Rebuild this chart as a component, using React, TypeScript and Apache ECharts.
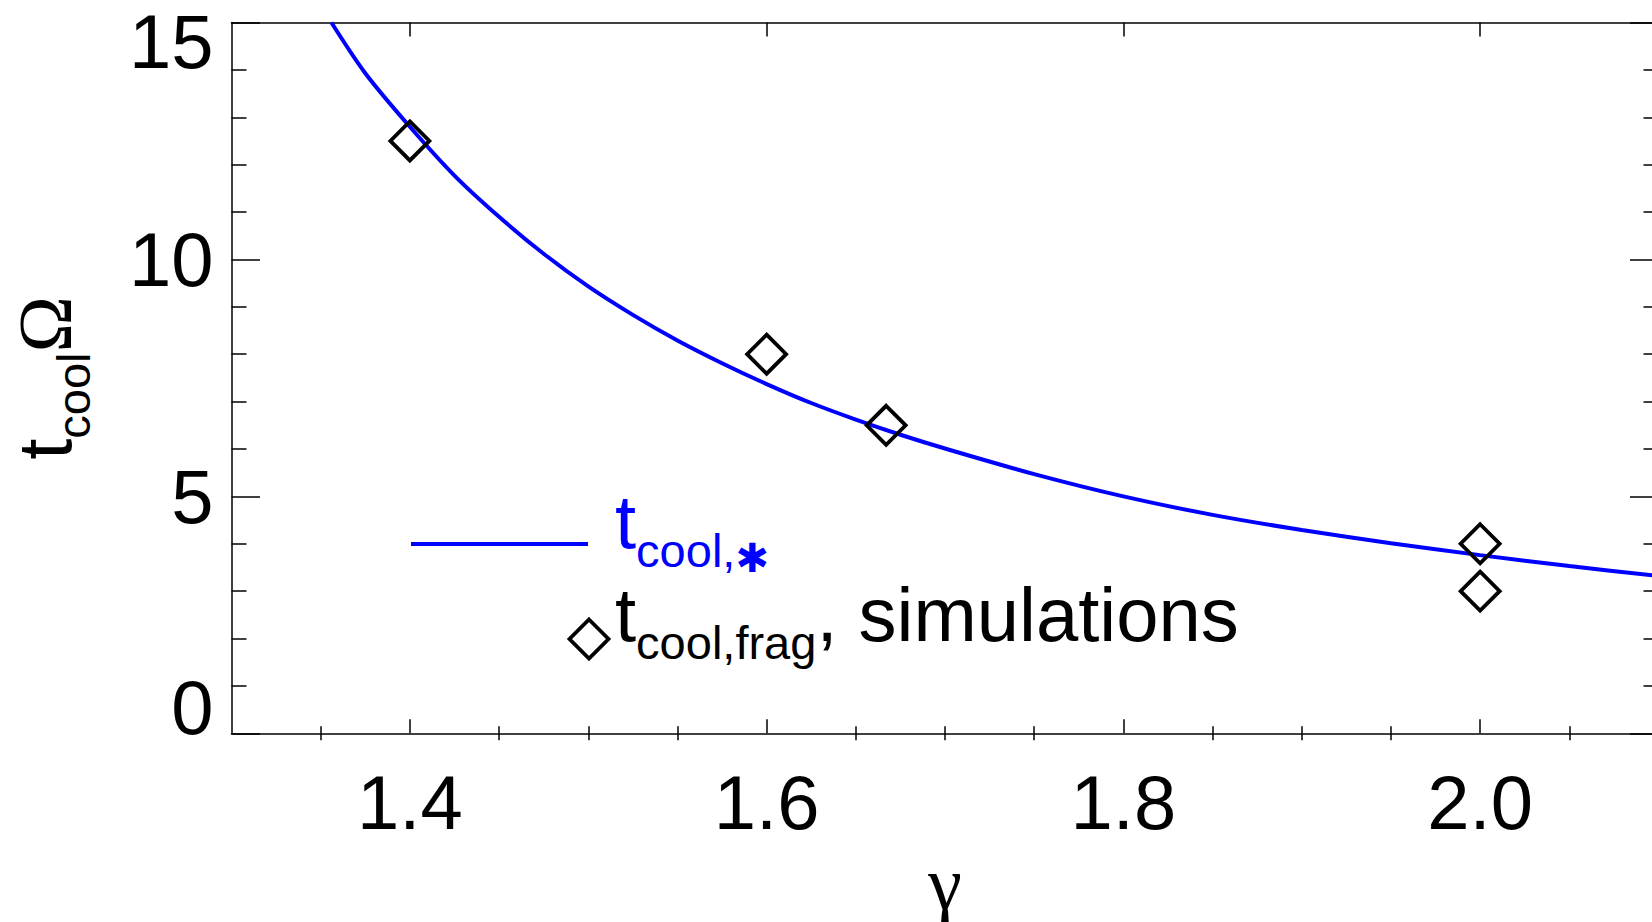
import React, { useEffect, useRef } from "react";
import * as echarts from "echarts";

// ---- data ----
const curveGamma = [1.356, 1.375, 1.4, 1.425, 1.45, 1.475, 1.5, 1.525, 1.55, 1.575, 1.6, 1.625, 1.65, 1.675, 1.7, 1.75, 1.8, 1.85, 1.9, 1.95, 2.0, 2.05, 2.1];
const curveT = [15.0, 13.93, 12.8, 11.77, 10.9, 10.12, 9.43, 8.83, 8.29, 7.81, 7.37, 6.97, 6.62, 6.3, 6.01, 5.47, 5.0, 4.61, 4.29, 4.01, 3.76, 3.53, 3.32];
const simGamma = [1.4, 1.6, 1.667, 2.0, 2.0];
const simT = [12.5, 8.0, 6.5, 4.0, 3.0];
const xMajorTicks = [1.4, 1.6, 1.8, 2.0];
const xMinorTicks = [1.35, 1.45, 1.5, 1.55, 1.65, 1.7, 1.75, 1.85, 1.9, 1.95, 2.05];
const xRange = [1.3, 2.1];
const yRange = [0, 15];
const yMajorStep = 5;

const SANS = "'Liberation Sans', Arial, Helvetica, sans-serif";
const SERIF = "'Liberation Serif', 'Times New Roman', serif";
const BLUE = "#0000ff";
const INK = "#000000";

export default function App() {
  const ref = useRef<HTMLDivElement>(null);

  useEffect(() => {
    if (!ref.current) return;
    const chart = echarts.init(ref.current, null, { renderer: "svg" });

    const tickLine = { color: INK, width: 1.5 };
    const baseX = {
      type: "value",
      min: xRange[0],
      max: xRange[1],
      gridIndex: 0,
      splitLine: { show: false },
    };
    const baseY = {
      type: "value",
      min: yRange[0],
      max: yRange[1],
      interval: yMajorStep,
      gridIndex: 0,
      splitLine: { show: false },
      minorSplitLine: { show: false },
      axisLine: { show: true, onZero: false, lineStyle: tickLine },
      axisTick: { show: true, inside: true, length: 28.5, lineStyle: tickLine },
      minorTick: { show: true, splitNumber: 5, length: 15, lineStyle: tickLine },
    };

    const option: any = {
      animation: false,
      backgroundColor: "#ffffff",
      grid: {
        left: 231.5,
        top: 22.5,
        width: 1427,
        height: 710.8,
        containLabel: false,
        outerBoundsMode: "none",
      },
      xAxis: [
        {
          ...baseX,
          position: "bottom",
          axisLine: { show: true, onZero: false, lineStyle: tickLine },
          axisTick: { show: true, inside: true, length: 14, customValues: xMajorTicks, lineStyle: tickLine },
          axisLabel: {
            show: true,
            customValues: xMajorTicks,
            formatter: (v: number) => v.toFixed(1),
            margin: 31,
            fontSize: 76,
            lineHeight: 76,
            fontFamily: SANS,
            color: INK,
          },
          name: "γ",
          nameLocation: "middle",
          nameGap: 140,
          nameTextStyle: {
            fontFamily: SERIF,
            fontSize: 76,
            lineHeight: 76,
            color: INK,
            align: "center",
            verticalAlign: "middle",
          },
        },
        {
          ...baseX,
          position: "bottom",
          axisLine: { show: false },
          axisTick: { show: true, inside: true, length: 7, customValues: xMinorTicks, lineStyle: tickLine },
          axisLabel: { show: false },
        },
        {
          ...baseX,
          position: "top",
          axisLine: { show: true, onZero: false, lineStyle: tickLine },
          axisTick: { show: true, inside: true, length: 14, customValues: xMajorTicks, lineStyle: tickLine },
          axisLabel: { show: false },
        },
        {
          ...baseX,
          position: "top",
          axisLine: { show: false },
          axisTick: { show: true, inside: true, length: 7, customValues: xMinorTicks, lineStyle: tickLine },
          axisLabel: { show: false },
        },
      ],
      yAxis: [
        {
          ...baseY,
          position: "left",
          axisLabel: {
            show: true,
            margin: 18,
            fontSize: 76,
            lineHeight: 76,
            fontFamily: SANS,
            color: INK,
            formatter: (v: number) =>
              v === yRange[1] ? `{hi|${v}}` : v === yRange[0] ? `{lo|${v}}` : `{n|${v}}`,
            rich: {
              hi: { fontSize: 76, lineHeight: 76, fontFamily: SANS, color: INK, padding: [38, 0, 0, 0] },
              lo: { fontSize: 76, lineHeight: 76, fontFamily: SANS, color: INK, padding: [0, 0, 52, 0] },
              n: { fontSize: 76, lineHeight: 76, fontFamily: SANS, color: INK },
            },
          },
          name: "{t|t}{s|cool}{o|Ω}",
          nameLocation: "middle",
          nameRotate: 90,
          nameGap: 187,
          nameTextStyle: {
            color: INK,
            align: "center",
            verticalAlign: "middle",
            rich: {
              t: { fontFamily: SANS, fontSize: 76, lineHeight: 80, color: INK },
              s: { fontFamily: SANS, fontSize: 47, lineHeight: 47, color: INK, padding: [58, 0, 0, 0] },
              o: { fontFamily: SERIF, fontSize: 76, lineHeight: 80, color: INK },
            },
          },
        },
        {
          ...baseY,
          position: "right",
          axisLabel: { show: false },
        },
      ],
      series: [
        {
          name: "t_cool,*",
          type: "line",
          xAxisIndex: 0,
          yAxisIndex: 0,
          data: curveGamma.map((g, i) => [g, curveT[i]]),
          showSymbol: false,
          symbol: "none",
          smooth: 0.3,
          lineStyle: { color: BLUE, width: 4 },
          z: 2,
        },
        {
          name: "t_cool,frag, simulations",
          type: "scatter",
          xAxisIndex: 0,
          yAxisIndex: 0,
          data: simGamma.map((g, i) => [g, simT[i]]),
          symbol: "diamond",
          symbolSize: 39,
          itemStyle: { color: "rgba(0,0,0,0)", borderColor: INK, borderWidth: 3.8, opacity: 1 },
          z: 3,
        },
      ],
      graphic: [
        {
          type: "line",
          shape: { x1: 411, y1: 544, x2: 588, y2: 544 },
          style: { stroke: BLUE, lineWidth: 4 },
          z: 10,
        },
        {
          type: "text",
          x: 615,
          y: 521.7,
          z: 10,
          style: {
            text: "{t|t}{s|cool,}{a|✱}",
            fill: BLUE,
            align: "left",
            verticalAlign: "middle",
            rich: {
              t: { fontFamily: SANS, fontSize: 76, lineHeight: 80, fill: BLUE },
              s: { fontFamily: SANS, fontSize: 47, lineHeight: 47, fill: BLUE, padding: [58, 0, 0, 0] },
              a: { fontFamily: "'DejaVu Sans', sans-serif", fontSize: 40, lineHeight: 40, fill: BLUE, padding: [72, 0, 0, 0] },
            },
          },
        },
        {
          type: "polygon",
          x: 589,
          y: 639,
          z: 10,
          shape: { points: [[0, -19.5], [19.5, 0], [0, 19.5], [-19.5, 0]] },
          style: { fill: "none", stroke: INK, lineWidth: 3.8 },
        },
        {
          type: "text",
          x: 615,
          y: 614.7,
          z: 10,
          style: {
            text: "{t|t}{s|cool,frag}{m|, simulations}",
            fill: INK,
            align: "left",
            verticalAlign: "middle",
            rich: {
              t: { fontFamily: SANS, fontSize: 76, lineHeight: 80, fill: INK },
              s: { fontFamily: SANS, fontSize: 47, lineHeight: 47, fill: INK, padding: [55, 0, 0, 0] },
              m: { fontFamily: SANS, fontSize: 76, lineHeight: 80, fill: INK },
            },
          },
        },
      ],
    };

    chart.setOption(option);
    return () => chart.dispose();
  }, []);

  return (
    <div
      ref={ref}
      style={{ position: "absolute", left: 0, top: 0, width: 1652, height: 922, background: "#ffffff" }}
    />
  );
}
